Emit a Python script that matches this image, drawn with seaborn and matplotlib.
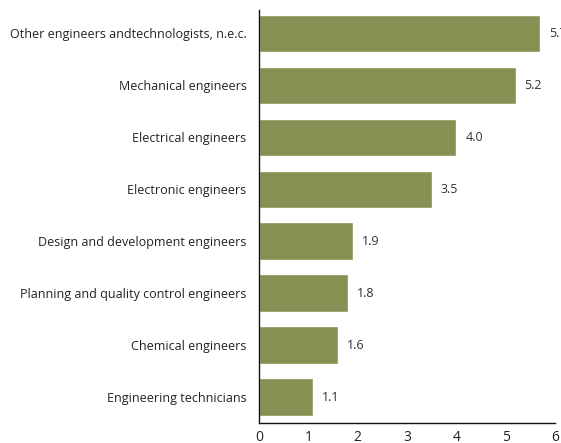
import matplotlib
matplotlib.use("Agg")
import matplotlib.pyplot as plt
import seaborn as sns
import pandas as pd

occupations = [
    "Other engineers andtechnologists, n.e.c.",
    "Mechanical engineers",
    "Electrical engineers",
    "Electronic engineers",
    "Design and development engineers",
    "Planning and quality control engineers",
    "Chemical engineers",
    "Engineering technicians",
]
values = [5.7, 5.2, 4.0, 3.5, 1.9, 1.8, 1.6, 1.1]
x_ticks = [0, 1, 2, 3, 4, 5, 6]

df = pd.DataFrame({"occupation": occupations, "value": values})

sns.set_style("white")
plt.rcParams["font.family"] = ["Open Sans", "DejaVu Sans"]

fig = plt.figure(figsize=(5.61, 4.43), dpi=100)
ax = fig.add_axes([0.4617, 0.0451, 0.5276, 0.9323])

sns.barplot(data=df, x="value", y="occupation", color="#869153",
            saturation=1, width=0.72, ax=ax)

for i, v in enumerate(values):
    ax.text(v + 0.18, i, f"{v:.1f}", va="center", ha="left",
            fontsize=9, color="#333333", clip_on=False)

ax.set_xlim(0, 6)
ax.set_ylim(7.5, -0.45)
ax.set_xticks(x_ticks)
ax.set_xlabel("")
ax.set_ylabel("")

sns.despine(ax=ax, top=True, right=True)
for s in ["left", "bottom"]:
    ax.spines[s].set_color("#111111")
    ax.spines[s].set_linewidth(1.0)

ax.tick_params(axis="x", direction="in", length=6.5, width=1.0,
               color="#111111", labelsize=10, labelcolor="#222222", pad=5)
ax.tick_params(axis="y", length=0, labelsize=9, labelcolor="#222222", pad=9)

fig.savefig("out.png", dpi=100)
